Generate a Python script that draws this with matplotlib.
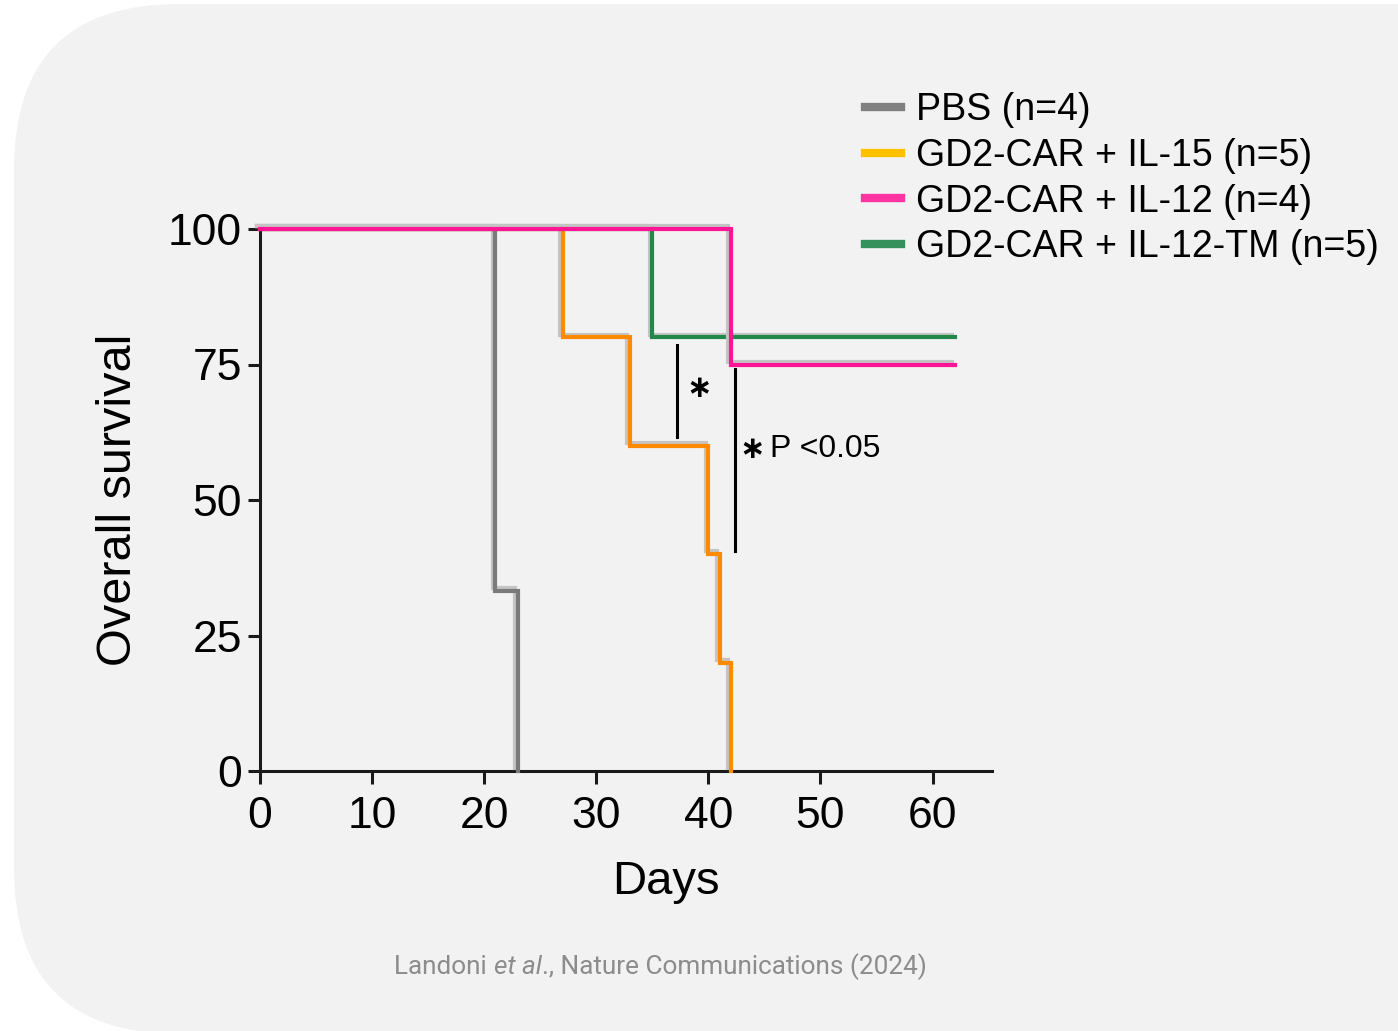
import numpy as np
import matplotlib
matplotlib.use("Agg")
import matplotlib.pyplot as plt
import matplotlib.patches as mpatches
import matplotlib.patheffects as pe
from matplotlib.lines import Line2D
from matplotlib.transforms import IdentityTransform

#############################################################################
# Data
#############################################################################
groups = ["PBS (n=4)", "GD2-CAR + IL-15 (n=5)", "GD2-CAR + IL-12 (n=4)",
          "GD2-CAR + IL-12-TM (n=5)"]
line_colors = ["#7a7a7a", "#ff8a00", "#ff1493", "#22884a"]
legend_colors = ["#808080", "#ffc000", "#ff33a1", "#35915c"]

# step curves: time (days) and survival (%) after each step
pbs_days = [0, 21, 23]
pbs_surv = [100, 33.3, 0]
il15_days = [0, 27, 33, 40, 41, 42]
il15_surv = [100, 80, 60, 40, 20, 0]
il12_days = [0, 42, 62]
il12_surv = [100, 75, 75]
il12tm_days = [0, 35, 62]
il12tm_surv = [100, 80, 80]

curves = [(pbs_days, pbs_surv), (il15_days, il15_surv),
          (il12_days, il12_surv), (il12tm_days, il12tm_surv)]

# significance bars: (x, y_low, y_high)
sig_bars = [(37.2, 61.6, 78.6), (42.4, 40.6, 74.2)]

x_ticks = [0, 10, 20, 30, 40, 50, 60]
y_ticks = [0, 25, 50, 75, 100]

#############################################################################
# Figure
#############################################################################
W, H = 1398, 1031
fig = plt.figure(figsize=(W / 100, H / 100), dpi=100)
fig.patch.set_facecolor("white")

# rounded grey card behind everything
card = mpatches.FancyBboxPatch((14, -3), 1700, 1030,
                               boxstyle="round,pad=0,rounding_size=165",
                               transform=IdentityTransform(),
                               facecolor="#f2f2f2", edgecolor="none", zorder=0)
fig.add_artist(card)

ax = fig.add_axes([260 / W, 260 / H, 732 / W, 542 / H])
ax.set_facecolor("none")

shadow = [pe.SimpleLineShadow(offset=(-2, 2), shadow_color="#c4c4c4", alpha=1),
          pe.Normal()]

# draw order: PBS, IL-15, IL-12-TM, then IL-12 on top
for z, i in enumerate([0, 1, 3, 2]):
    d, s = curves[i]
    ax.step(d, s, where="post", color=line_colors[i], lw=3.0,
            solid_joinstyle="miter", clip_on=False, zorder=3 + z,
            path_effects=shadow)

for x, y0, y1 in sig_bars:
    ax.plot([x, x], [y0, y1], color="black", lw=2.2, zorder=10)

ax.text(39.2, 70.5, "\u2217", fontsize=22, fontweight="bold", family="DejaVu Sans",
        ha="center", va="center", zorder=11)
ax.text(43.9, 59.4, "\u2217", fontsize=22, fontweight="bold", family="DejaVu Sans",
        ha="center", va="center", zorder=11)
ax.text(45.5, 59.4, "P <0.05", fontsize=23, family="Liberation Sans",
        ha="left", va="center", zorder=11)

ax.set_xlim(0, 65.3)
ax.set_ylim(0, 100)
ax.set_xticks(x_ticks)
ax.set_yticks(y_ticks)

for side in ["top", "right"]:
    ax.spines[side].set_visible(False)
for side in ["left", "bottom"]:
    ax.spines[side].set_linewidth(2.2)
    ax.spines[side].set_color("#1a1a1a")

ax.tick_params(axis="both", width=2.2, length=9, color="#1a1a1a",
               labelsize=32, direction="out")
ax.tick_params(axis="x", pad=9)
ax.tick_params(axis="y", pad=4)
for lab in ax.get_xticklabels() + ax.get_yticklabels():
    lab.set_family("Liberation Sans")

ax.set_xlabel("Days", fontsize=34, family="Liberation Sans")
ax.set_ylabel("Overall survival", fontsize=35, family="Liberation Sans")
ax.xaxis.set_label_coords(0.555, -0.165)
ax.yaxis.set_label_coords(-0.163, 0.5)

handles = [Line2D([0], [0], color=c, lw=6) for c in legend_colors]
leg = ax.legend(handles, groups, loc="upper left",
                bbox_to_anchor=(865 / W, 1 - 92 / H),
                bbox_transform=fig.transFigure, frameon=False,
                borderpad=0, borderaxespad=0, handlelength=0.95,
                handletextpad=0.42, labelspacing=0.26,
                prop={"family": "Liberation Sans", "size": 27})

# citation line with italic "et al."
renderer = fig.canvas.get_renderer()
pieces = [("Landoni ", "normal"), ("et al", "italic"),
          ("., Nature Communications (2024)", "normal")]
cite_kw = dict(fontsize=18.8, family="Roboto", color="#8c8c8c", va="center")
texts = []
for s, style in pieces:
    t = fig.text(0, 0, s, style=style, transform=IdentityTransform(), **cite_kw)
    texts.append(t)
widths = [t.get_window_extent(renderer).width for t in texts]
x0 = 660.5 - sum(widths) / 2
for t, w in zip(texts, widths):
    t.set_position((x0, H - 967))
    x0 += w

fig.savefig("out.png", dpi=100)
